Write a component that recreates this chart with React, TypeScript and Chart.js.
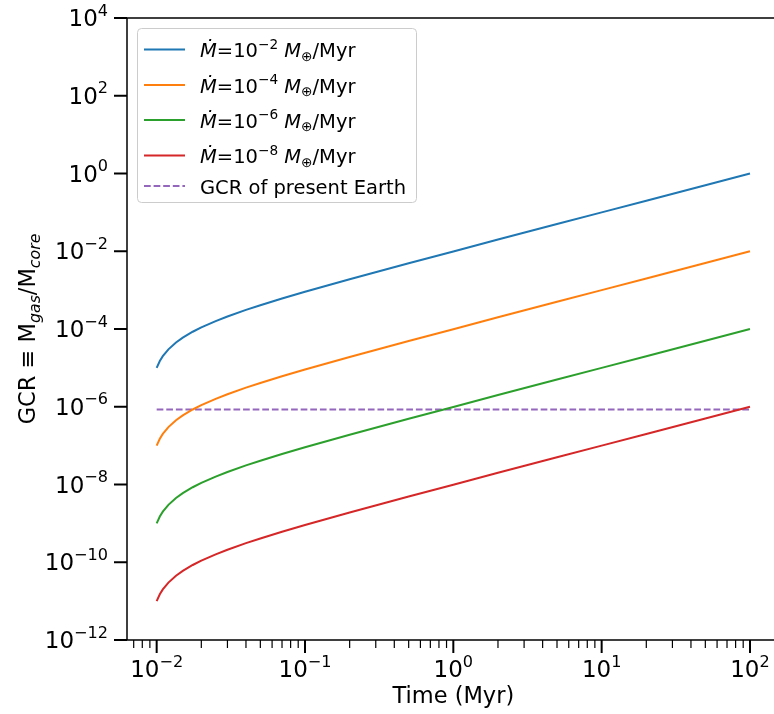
import React, { useEffect, useRef } from "react";
import Chart from "chart.js/auto";

// Time grid (Myr) shared by every accretion-rate curve
const timeMyr = [0.01, 0.0105, 0.011, 0.012, 0.0135, 0.015, 0.0175, 0.02, 0.025, 0.03, 0.04, 0.05, 0.07, 0.1, 0.2, 0.5, 1, 2, 5, 10, 20, 50, 100];

// Gas-to-core ratio for each accretion rate
const gcrMdot1e2 = [1.0e-5, 1.5e-5, 2.0e-5, 3.0e-5, 4.5e-5, 6.0e-5, 8.5e-5, 1.1e-4, 1.6e-4, 2.1e-4, 3.1e-4, 4.1e-4, 6.1e-4, 9.1e-4, 1.9e-3, 4.9e-3, 9.9e-3, 2.0e-2, 5.0e-2, 0.1, 0.2, 0.5, 1.0];
const gcrMdot1e4 = [1.0e-7, 1.5e-7, 2.0e-7, 3.0e-7, 4.5e-7, 6.0e-7, 8.5e-7, 1.1e-6, 1.6e-6, 2.1e-6, 3.1e-6, 4.1e-6, 6.1e-6, 9.1e-6, 1.9e-5, 4.9e-5, 9.9e-5, 2.0e-4, 5.0e-4, 1.0e-3, 2.0e-3, 5.0e-3, 1.0e-2];
const gcrMdot1e6 = [1.0e-9, 1.5e-9, 2.0e-9, 3.0e-9, 4.5e-9, 6.0e-9, 8.5e-9, 1.1e-8, 1.6e-8, 2.1e-8, 3.1e-8, 4.1e-8, 6.1e-8, 9.1e-8, 1.9e-7, 4.9e-7, 9.9e-7, 2.0e-6, 5.0e-6, 1.0e-5, 2.0e-5, 5.0e-5, 1.0e-4];
const gcrMdot1e8 = [1.0e-11, 1.5e-11, 2.0e-11, 3.0e-11, 4.5e-11, 6.0e-11, 8.5e-11, 1.1e-10, 1.6e-10, 2.1e-10, 3.1e-10, 4.1e-10, 6.1e-10, 9.1e-10, 1.9e-9, 4.9e-9, 9.9e-9, 2.0e-8, 5.0e-8, 1.0e-7, 2.0e-7, 5.0e-7, 1.0e-6];

// Accretion-rate exponents (legend) and the present-Earth reference level
const mdotExponents = [-2, -4, -6, -8];
const earthSpan = [0.01, 100];
const earthGcr = 8.5e-7;
const earthLabel = "GCR of present Earth";

// Axis limits and labelled decades
const xLimExp = [-2.2, 2.2];
const yLimExp = [-12, 4];
const xTickExps = [-2, -1, 0, 1, 2];
const yTickExps = [4, 2, 0, -2, -4, -6, -8, -10, -12];

const seriesColors = ["#1f77b4", "#ff7f0e", "#2ca02c", "#d62728"];
const earthColor = "#9467bd";

const FONT = '"DejaVu Sans", sans-serif';

type Part = { t: string; italic?: boolean; scale?: number; dy?: number };

function setFont(ctx: CanvasRenderingContext2D, p: Part, size: number) {
  ctx.font = `${p.italic ? "italic " : ""}${size * (p.scale ?? 1)}px ${FONT}`;
}

function richWidth(ctx: CanvasRenderingContext2D, parts: Part[], size: number) {
  let w = 0;
  for (const p of parts) {
    setFont(ctx, p, size);
    w += ctx.measureText(p.t).width;
  }
  return w;
}

function drawRich(ctx: CanvasRenderingContext2D, parts: Part[], x: number, y: number, size: number) {
  let cx = x;
  ctx.textAlign = "left";
  ctx.textBaseline = "alphabetic";
  for (const p of parts) {
    setFont(ctx, p, size);
    ctx.fillText(p.t, cx, y + (p.dy ?? 0) * size);
    cx += ctx.measureText(p.t).width;
  }
  return cx - x;
}

const minus = (n: number) => (n < 0 ? "\u2212" + Math.abs(n) : String(n));
const powParts = (e: number): Part[] => [{ t: "10" }, { t: minus(e), scale: 0.7, dy: -0.45 }];

const mdotParts = (e: number): Part[] => [
  { t: "\u1E40", italic: true },
  { t: "=10" },
  { t: minus(e), scale: 0.7, dy: -0.42 },
  { t: " " },
  { t: "M", italic: true },
  { t: "\u2295", scale: 0.7, dy: 0.2 },
  { t: "/Myr" },
];

const decorPlugin = {
  id: "decor",
  afterDatasetsDraw(chart: any) {
    const ctx: CanvasRenderingContext2D = chart.ctx;
    const xs = chart.scales.x;
    const ys = chart.scales.y;
    const a = chart.chartArea;
    ctx.save();
    ctx.strokeStyle = "#000";
    ctx.fillStyle = "#000";

    // spines
    ctx.lineWidth = 1.5;
    ctx.beginPath();
    ctx.moveTo(a.left, a.top);
    ctx.lineTo(a.right, a.top);
    ctx.lineTo(a.right, a.bottom);
    ctx.lineTo(a.left, a.bottom);
    ctx.closePath();
    ctx.stroke();

    // x ticks: major + minor
    const tickSize = 23;
    ctx.lineWidth = 2;
    for (const e of xTickExps) {
      const px = xs.getPixelForValue(Math.pow(10, e));
      ctx.beginPath();
      ctx.moveTo(px, a.bottom);
      ctx.lineTo(px, a.bottom + 13);
      ctx.stroke();
      const parts = powParts(e);
      const w = richWidth(ctx, parts, tickSize);
      drawRich(ctx, parts, px - w / 2, a.bottom + 37, tickSize);
    }
    ctx.lineWidth = 1.2;
    const xmin = Math.pow(10, xLimExp[0]);
    const xmax = Math.pow(10, xLimExp[1]);
    for (let d = -3; d <= 2; d++) {
      for (let k = 2; k <= 9; k++) {
        const v = k * Math.pow(10, d);
        if (v < xmin || v > xmax) continue;
        const px = xs.getPixelForValue(v);
        ctx.beginPath();
        ctx.moveTo(px, a.bottom);
        ctx.lineTo(px, a.bottom + 8);
        ctx.stroke();
      }
    }

    // y ticks
    ctx.lineWidth = 2;
    for (const e of yTickExps) {
      const py = ys.getPixelForValue(Math.pow(10, e));
      ctx.beginPath();
      ctx.moveTo(a.left - 13, py);
      ctx.lineTo(a.left, py);
      ctx.stroke();
      const parts = powParts(e);
      const w = richWidth(ctx, parts, tickSize);
      drawRich(ctx, parts, a.left - 19 - w, py + 8, tickSize);
    }

    // axis titles
    const titleSize = 22.5;
    ctx.font = `${titleSize}px ${FONT}`;
    ctx.textAlign = "center";
    ctx.textBaseline = "alphabetic";
    ctx.fillText("Time (Myr)", xs.getPixelForValue(1), 703);

    const yTitle: Part[] = [
      { t: "GCR \u2261 M" },
      { t: "gas", italic: true, scale: 0.7, dy: 0.2 },
      { t: "/M" },
      { t: "core", italic: true, scale: 0.7, dy: 0.2 },
    ];
    ctx.save();
    ctx.translate(35, (a.top + a.bottom) / 2);
    ctx.rotate(-Math.PI / 2);
    const yw = richWidth(ctx, yTitle, titleSize);
    drawRich(ctx, yTitle, -yw / 2, 0, titleSize);
    ctx.restore();

    // legend
    const lx = 137, ly = 28, lw = 279, lh = 174;
    ctx.beginPath();
    ctx.roundRect(lx + 0.5, ly + 0.5, lw, lh, 4);
    ctx.fillStyle = "rgba(255,255,255,0.8)";
    ctx.fill();
    ctx.strokeStyle = "#cccccc";
    ctx.lineWidth = 1;
    ctx.stroke();

    const rowY = [49.5, 85, 120, 155.5, 186];
    const legendSize = 19.5;
    chart.data.datasets.forEach((ds: any, i: number) => {
      const y = rowY[i];
      ctx.save();
      ctx.strokeStyle = ds.borderColor;
      ctx.lineWidth = ds.borderWidth;
      ctx.setLineDash(ds.borderDash || []);
      ctx.beginPath();
      ctx.moveTo(144, y);
      ctx.lineTo(185, y);
      ctx.stroke();
      ctx.restore();
      ctx.fillStyle = "#000";
      const parts: Part[] = i < mdotExponents.length ? mdotParts(mdotExponents[i]) : [{ t: earthLabel }];
      drawRich(ctx, parts, 200, y + 7.5, legendSize);
    });

    ctx.restore();
  },
};

export default function App() {
  const ref = useRef<HTMLCanvasElement>(null);

  useEffect(() => {
    if (!ref.current) return;
    const mk = (ys: number[]) => timeMyr.map((t, i) => ({ x: t, y: ys[i] }));
    const series = [gcrMdot1e2, gcrMdot1e4, gcrMdot1e6, gcrMdot1e8];
    const datasets: any[] = series.map((s, i) => ({
      label: `Mdot=1e${mdotExponents[i]}`,
      data: mk(s),
      borderColor: seriesColors[i],
      borderWidth: 2,
      pointRadius: 0,
      showLine: true,
      tension: 0,
    }));
    datasets.push({
      label: earthLabel,
      data: earthSpan.map((t) => ({ x: t, y: earthGcr })),
      borderColor: earthColor,
      borderWidth: 1.8,
      borderDash: [6.7, 2.9],
      pointRadius: 0,
      showLine: true,
    });

    const W = 781, H = 714;
    const axisBase = {
      type: "logarithmic" as const,
      bounds: "data" as const,
      ticks: { display: false },
      grid: { display: false, drawTicks: false, tickLength: 0 },
      border: { display: false },
    };
    const chart = new Chart(ref.current, {
      type: "scatter",
      data: { datasets },
      options: {
        animation: false,
        responsive: false,
        devicePixelRatio: 1,
        layout: { padding: { left: 127, top: 18, right: W - 779.65, bottom: H - 640 } },
        plugins: { legend: { display: false }, tooltip: { enabled: false } },
        scales: {
          x: { ...axisBase, min: Math.pow(10, xLimExp[0]), max: Math.pow(10, xLimExp[1]) },
          y: { ...axisBase, min: Math.pow(10, yLimExp[0]), max: Math.pow(10, yLimExp[1]) },
        },
      } as any,
      plugins: [decorPlugin],
    });
    return () => chart.destroy();
  }, []);

  return (
    <div style={{ position: "fixed", left: 0, top: 0, width: 774, height: 714, overflow: "hidden", background: "#fff" }}>
      <canvas ref={ref} width={781} height={714} style={{ width: 781, height: 714, display: "block" }} />
    </div>
  );
}
